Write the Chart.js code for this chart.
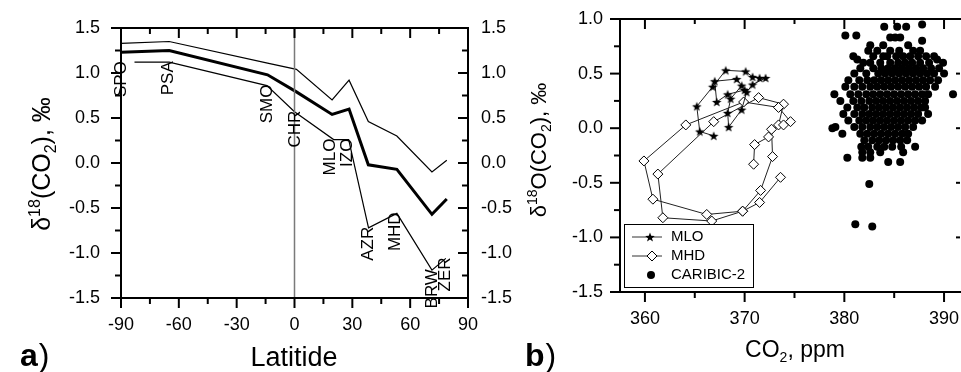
<!DOCTYPE html>
<html>
<head>
<meta charset="utf-8">
<script src="https://cdn.jsdelivr.net/npm/chart.js@4.4.0/dist/chart.umd.min.js"></script>
<style>
  html, body { margin: 0; padding: 0; background: #fff; }
  #wrap { position: relative; width: 961px; height: 372px; overflow: hidden; }
  #wrap canvas { position: absolute; left: 0; top: 0; }
</style>
</head>
<body>
<div id="wrap">
  <canvas id="chartA" width="961" height="372"></canvas>
  <canvas id="chartB" width="966" height="372"></canvas>
</div>
<script>
// ---- panel a: latitude profile ----
const latTicks = [-90, -60, -30, 0, 30, 60, 90];
const latMinor = [-75, -45, -15, 15, 45, 75];
const deltaTicks = [-1.5, -1.0, -0.5, 0.0, 0.5, 1.0, 1.5];
const deltaMinor = [-1.25, -0.75, -0.25, 0.25, 0.75, 1.25];

const bandLat  = [-90, -65, -14, 1, 19.5, 28.3, 38.3, 53.1, 71.3, 79];
const upperVal = [1.33, 1.35, 1.11, 1.04, 0.70, 0.92, 0.46, 0.30, -0.10, 0.03];
const meanVal  = [1.23, 1.25, 0.98, 0.79, 0.54, 0.60, -0.02, -0.07, -0.57, -0.40];

const stationNames   = ['SPO', 'PSA', 'SMO', 'CHR', 'MLO', 'IZO', 'AZR', 'MHD', 'BRW', 'ZER'];
const stationLat     = [-90, -65.5, -14.3, 0.5, 18.8, 27.6, 38.5, 52.5, 71.3, 78.3];
const stationLineLat = [-83, -65, -14.3, 0, 20.3, 28.1, 38.4, 53.1, 71.3, 78.5];
const stationVal     = [1.12, 1.12, 0.86, 0.57, 0.26, 0.26, -0.72, -0.56, -1.19, -1.06];
const equatorLat = 0;

// ---- panel b: d18O vs CO2 ----
const co2Ticks = [360, 370, 380, 390];
const co2Minor = [365, 375, 385];
const d18Ticks = [-1.5, -1.0, -0.5, 0.0, 0.5, 1.0];
const d18Minor = [-1.25, -0.75, -0.25, 0.25, 0.75];

const mloPoints = [
  [366.9, -0.07], [365.5, -0.03], [365.2, 0.20], [366.8, 0.38], [368.1, 0.53],
  [370.1, 0.52], [370.8, 0.47], [371.5, 0.46], [372.1, 0.46], [370.8, 0.40],
  [370.2, 0.33], [369.7, 0.17], [368.4, 0.01], [368.3, 0.14], [368.6, 0.27],
  [369.7, 0.39], [369.2, 0.45], [367.0, 0.43], [367.2, 0.24], [368.3, 0.31], [370.0, 0.35]
];
const mhdPoints = [
  [370.9, -0.33], [371.0, -0.15], [372.4, -0.08], [373.4, 0.03], [373.9, 0.22],
  [371.4, 0.28], [366.9, 0.06], [361.3, -0.42], [361.8, -0.82], [366.7, -0.85],
  [369.8, -0.76], [371.6, -0.57], [372.8, -0.26], [372.7, -0.01], [373.9, 0.03],
  [374.6, 0.06], [373.4, 0.19], [369.9, 0.24], [364.1, 0.03], [359.9, -0.30],
  [360.8, -0.65], [366.2, -0.79], [369.8, -0.76], [371.5, -0.68], [373.6, -0.45]
];
// CARIBIC-2 samples, read row by row: [d18O, [CO2 ...]]
const caribicRows = [
  [0.95, [387.8]],
  [0.93, [384.0, 385.3, 386.2]],
  [0.85, [380.1, 381.2]],
  [0.83, [384.6, 385.1, 385.6]],
  [0.80, [387.8]],
  [0.76, [382.6, 383.9, 386.4]],
  [0.71, [382.4, 383.3, 384.6, 385.5, 386.9, 387.6]],
  [0.66, [380.9, 382.9, 383.9, 384.3, 385.2, 385.9, 386.6, 387.4, 388.2, 389.0]],
  [0.63, [381.3, 389.3]],
  [0.60, [381.9, 382.6, 383.6, 384.6, 385.4, 386.1, 386.8, 387.6, 388.5, 389.9]],
  [0.55, [381.6, 382.9, 383.7, 384.4, 385.1, 385.8, 386.5, 387.2, 387.9, 388.7, 389.5]],
  [0.50, [381.0, 382.2, 383.4, 384.1, 384.8, 385.5, 386.2, 386.9, 387.6, 388.3, 389.0, 390.0]],
  [0.44, [380.4, 381.5, 382.3, 383.0, 383.7, 384.4, 385.1, 385.8, 386.5, 387.2, 387.9, 388.6, 389.4]],
  [0.38, [380.1, 381.0, 381.8, 382.6, 383.3, 384.0, 384.7, 385.4, 386.1, 386.8, 387.5, 388.2, 389.1]],
  [0.31, [379.0, 380.6, 381.4, 382.2, 382.9, 383.6, 384.3, 385.0, 385.7, 386.4, 387.1, 387.8, 388.4, 390.9]],
  [0.25, [379.6, 380.9, 381.7, 382.5, 383.2, 383.9, 384.6, 385.3, 386.0, 386.7, 387.4, 388.1]],
  [0.19, [380.3, 381.3, 382.0, 382.8, 383.5, 384.2, 384.9, 385.6, 386.3, 387.0, 387.7, 388.1]],
  [0.13, [379.9, 381.0, 381.8, 382.5, 383.2, 383.9, 384.6, 385.3, 386.0, 386.7, 387.4, 388.4]],
  [0.07, [380.4, 381.5, 382.2, 382.9, 383.6, 384.3, 385.0, 385.7, 386.4, 387.1, 387.8]],
  [0.01, [379.1, 381.0, 381.8, 382.6, 383.3, 384.0, 384.7, 385.4, 386.1, 386.9]],
  [0.00, [378.8]],
  [-0.05, [379.8, 381.6, 382.3, 383.0, 383.7, 384.4, 385.1, 385.8, 386.4]],
  [-0.11, [382.0, 382.8, 383.5, 384.2, 384.9, 385.6, 386.3]],
  [-0.17, [381.7, 382.4, 383.3, 384.0, 384.8, 385.7, 387.1]],
  [-0.22, [381.8, 382.6, 383.6, 385.9]],
  [-0.27, [380.3, 381.8, 382.6]],
  [-0.31, [384.4, 385.6]],
  [-0.51, [382.5]],
  [-0.88, [381.1]],
  [-0.90, [382.8]]
];

const FONT = "'Liberation Sans', Arial, sans-serif";

function toXY(xs, ys) { return xs.map((x, i) => ({ x: x, y: ys[i] })); }
function pairsXY(list) { return list.map(p => ({ x: p[0], y: p[1] })); }
function fixedTicks(list) { return scale => { scale.ticks = list.map(v => ({ value: v })); }; }
// force an axis box size and drop the label-overflow padding chart.js adds
function boxSize(dim, size) {
  return s => {
    s[dim] = size;
    s.paddingLeft = 0; s.paddingRight = 0; s.paddingTop = 0; s.paddingBottom = 0;
  };
}

// rich text with super/subscripts, centred on (cx, cy)
function richText(ctx, parts, cx, cy, size, rotate) {
  ctx.save();
  ctx.translate(cx, cy);
  if (rotate) ctx.rotate(-Math.PI / 2);
  const small = Math.round(size * 0.62);
  let total = 0;
  parts.forEach(p => {
    ctx.font = ((p.sup || p.sub) ? small : size) + 'px ' + FONT;
    p.w = ctx.measureText(p.t).width;
    total += p.w;
  });
  let x = -total / 2;
  ctx.fillStyle = '#000';
  ctx.textBaseline = 'alphabetic';
  ctx.textAlign = 'left';
  parts.forEach(p => {
    ctx.font = ((p.sup || p.sub) ? small : size) + 'px ' + FONT;
    const dy = p.sup ? -size * 0.4 : (p.sub ? size * 0.22 : 0);
    ctx.fillText(p.t, x, size * 0.36 + dy);
    x += p.w;
  });
  ctx.restore();
}

function panelLetter(ctx, letter, x, y) {
  ctx.save();
  ctx.fillStyle = '#000';
  ctx.textBaseline = 'alphabetic';
  ctx.font = 'bold 32px ' + FONT;
  ctx.fillText(letter, x, y);
  const w = ctx.measureText(letter).width;
  ctx.font = '32px ' + FONT;
  ctx.fillText(')', x + w + 1, y);
  ctx.restore();
}

// frame + inward/outward tick marks (len > 0 outward, < 0 inward)
const frameTicks = {
  id: 'frameTicks',
  afterDatasetsDraw(chart, args, opts) {
    const { ctx, chartArea: a, scales } = chart;
    ctx.save();
    ctx.strokeStyle = '#000';
    ctx.lineWidth = 2;
    ctx.lineCap = 'square';
    ctx.beginPath();
    opts.sides.forEach(side => {
      if (side === 'left') { ctx.moveTo(a.left, a.top); ctx.lineTo(a.left, a.bottom); }
      if (side === 'right') { ctx.moveTo(a.right, a.top); ctx.lineTo(a.right, a.bottom); }
      if (side === 'top') { ctx.moveTo(a.left, a.top); ctx.lineTo(a.right, a.top); }
      if (side === 'bottom') { ctx.moveTo(a.left, a.bottom); ctx.lineTo(a.right, a.bottom); }
    });
    ctx.stroke();
    ctx.lineCap = 'butt';
    opts.marks.forEach(m => {
      const s = scales[m.scale];
      m.values.forEach(v => {
        const p = s.getPixelForValue(v);
        ctx.beginPath();
        if (m.edge === 'bottom') { ctx.moveTo(p, a.bottom); ctx.lineTo(p, a.bottom + m.len); }
        if (m.edge === 'top') { ctx.moveTo(p, a.top); ctx.lineTo(p, a.top - m.len); }
        if (m.edge === 'left') { ctx.moveTo(a.left, p); ctx.lineTo(a.left - m.len, p); }
        if (m.edge === 'right') { ctx.moveTo(a.right, p); ctx.lineTo(a.right + m.len, p); }
        ctx.stroke();
      });
    });
    ctx.restore();
  }
};

const panelAText = {
  id: 'panelAText',
  afterDraw(chart) {
    const { ctx, scales: { x, y } } = chart;
    ctx.save();
    ctx.fillStyle = '#000';
    ctx.font = '17px ' + FONT;
    ctx.textAlign = 'right';
    ctx.textBaseline = 'middle';
    stationNames.forEach((name, i) => {
      const px = x.getPixelForValue(stationLat[i]);
      const py = y.getPixelForValue(stationVal[i]);
      ctx.save();
      ctx.translate(px, py - 1);
      ctx.rotate(-Math.PI / 2);
      ctx.fillText(name, 0, 0);
      ctx.restore();
    });
    ctx.textAlign = 'center';
    ctx.textBaseline = 'alphabetic';
    ctx.font = '27px ' + FONT;
    ctx.fillText('Latitide', 294, 366);
    ctx.restore();
    richText(ctx, [{ t: 'δ' }, { t: '18', sup: true }, { t: '(CO' }, { t: '2', sub: true }, { t: '), ‰' }], 41, 164, 25, true);
    panelLetter(ctx, 'a', 20, 366);
  }
};

function makeStar(r) {
  const c = document.createElement('canvas');
  const s = Math.ceil(r * 2 + 2);
  c.width = s; c.height = s;
  const g = c.getContext('2d');
  g.translate(s / 2, s / 2 + r * 0.1);
  g.beginPath();
  for (let i = 0; i < 10; i++) {
    const rr = i % 2 ? r * 0.42 : r;
    const ang = -Math.PI / 2 + i * Math.PI / 5;
    g.lineTo(rr * Math.cos(ang), rr * Math.sin(ang));
  }
  g.closePath();
  g.fillStyle = '#000';
  g.fill();
  return c;
}
const starImg = makeStar(5);

const panelBText = {
  id: 'panelBText',
  afterDraw(chart) {
    const { ctx } = chart;
    // legend
    ctx.save();
    ctx.fillStyle = '#fff';
    ctx.fillRect(624, 224, 129, 63);
    ctx.strokeStyle = '#000';
    ctx.lineWidth = 1;
    ctx.strokeRect(624.5, 224.5, 129, 63);
    ctx.font = '15px ' + FONT;
    ctx.textBaseline = 'middle';
    ctx.fillStyle = '#000';
    const rows = [237, 256, 275];
    ctx.strokeStyle = '#333';
    ctx.beginPath();
    ctx.moveTo(632, rows[0]); ctx.lineTo(662, rows[0]);
    ctx.moveTo(632, rows[1]); ctx.lineTo(662, rows[1]);
    ctx.stroke();
    ctx.drawImage(starImg, 650 - starImg.width / 2, rows[0] - starImg.height / 2);
    ctx.beginPath();
    ctx.moveTo(652, rows[1] - 5); ctx.lineTo(657, rows[1]); ctx.lineTo(652, rows[1] + 5); ctx.lineTo(647, rows[1]);
    ctx.closePath();
    ctx.fillStyle = '#fff'; ctx.fill(); ctx.strokeStyle = '#000'; ctx.stroke();
    ctx.fillStyle = '#000';
    ctx.beginPath(); ctx.arc(651, rows[2], 4, 0, Math.PI * 2); ctx.fill();
    ctx.fillText('MLO', 671, rows[0]);
    ctx.fillText('MHD', 671, rows[1]);
    ctx.fillText('CARIBIC-2', 671, rows[2]);
    ctx.restore();
    richText(ctx, [{ t: 'δ' }, { t: '18', sup: true }, { t: 'O(CO' }, { t: '2', sub: true }, { t: '), ‰' }], 538, 150, 22, true);
    ctx.save();
    ctx.font = '23px ' + FONT;
    const w1 = ctx.measureText('CO').width;
    const w3 = ctx.measureText(', ppm').width;
    ctx.font = '14px ' + FONT;
    const w2 = ctx.measureText('2').width;
    let x0 = 795 - (w1 + w2 + w3) / 2;
    ctx.fillStyle = '#000';
    ctx.font = '23px ' + FONT;
    ctx.fillText('CO', x0, 357);
    ctx.font = '14px ' + FONT;
    ctx.fillText('2', x0 + w1, 362);
    ctx.font = '23px ' + FONT;
    ctx.fillText(', ppm', x0 + w1 + w2, 357);
    ctx.restore();
    panelLetter(ctx, 'b', 525, 366);
  }
};

const tickFont = { family: FONT, size: 18 };
const noGrid = { display: false, drawTicks: false };
const noBorder = { display: false };

// ---------- chart a ----------
new Chart(document.getElementById('chartA'), {
  type: 'scatter',
  data: {
    datasets: [
      { data: toXY([equatorLat, equatorLat], [deltaTicks[0], deltaTicks[deltaTicks.length - 1]]),
        showLine: true, borderColor: '#7a7a7a', borderWidth: 1.5, pointRadius: 0 },
      { data: toXY(bandLat, upperVal), showLine: true, borderColor: '#000', borderWidth: 1.2, pointRadius: 0 },
      { data: toXY(bandLat, meanVal), showLine: true, borderColor: '#000', borderWidth: 3, pointRadius: 0 },
      { data: toXY(stationLineLat, stationVal), showLine: true, borderColor: '#000', borderWidth: 1.2, pointRadius: 0 }
    ]
  },
  options: {
    responsive: false,
    animation: false,
    devicePixelRatio: 1,
    layout: { padding: { top: 28, left: 0, right: 0, bottom: 0 } },
    plugins: {
      legend: { display: false },
      tooltip: { enabled: false },
      frameTicks: {
        sides: ['left', 'right', 'top', 'bottom'],
        marks: [
          { scale: 'x', edge: 'bottom', values: latTicks, len: 10 },
          { scale: 'x', edge: 'bottom', values: latMinor, len: 6 },
          { scale: 'x', edge: 'top', values: latTicks, len: -10 },
          { scale: 'x', edge: 'top', values: latMinor, len: -6 },
          { scale: 'y', edge: 'left', values: deltaTicks, len: 10 },
          { scale: 'y', edge: 'left', values: deltaMinor, len: 6 },
          { scale: 'y', edge: 'right', values: deltaTicks, len: -10 },
          { scale: 'y', edge: 'right', values: deltaMinor, len: -6 }
        ]
      }
    },
    scales: {
      x: {
        type: 'linear', position: 'bottom', min: -90, max: 90,
        grid: noGrid, border: noBorder,
        afterBuildTicks: fixedTicks(latTicks),
        afterFit: boxSize('height', 74),
        ticks: { font: tickFont, color: '#000', padding: 16, maxRotation: 0, autoSkip: false, callback: v => String(v) }
      },
      y: {
        type: 'linear', position: 'left', min: -1.5, max: 1.5,
        grid: noGrid, border: noBorder,
        afterBuildTicks: fixedTicks(deltaTicks),
        afterFit: boxSize('width', 121),
        ticks: { font: tickFont, color: '#000', padding: 21, callback: v => v.toFixed(1) }
      },
      y2: {
        type: 'linear', position: 'right', min: -1.5, max: 1.5,
        grid: noGrid, border: noBorder,
        afterBuildTicks: fixedTicks(deltaTicks),
        afterFit: boxSize('width', 961 - 468),
        ticks: { font: tickFont, color: '#000', padding: 13, callback: v => v.toFixed(1) }
      }
    }
  },
  plugins: [frameTicks, panelAText]
});

// ---------- chart b ----------
const caribicPoints = [];
caribicRows.forEach(row => row[1].forEach(c => caribicPoints.push([c, row[0]])));

new Chart(document.getElementById('chartB'), {
  type: 'scatter',
  data: {
    datasets: [
      { label: 'MLO', data: pairsXY(mloPoints), showLine: true, borderColor: '#222', borderWidth: 1,
        pointStyle: starImg, pointRadius: 5 },
      { label: 'MHD', data: pairsXY(mhdPoints), showLine: true, borderColor: '#222', borderWidth: 1,
        pointStyle: 'rectRot', pointRadius: 5, pointBackgroundColor: '#fff', pointBorderColor: '#000', pointBorderWidth: 1 },
      { label: 'CARIBIC-2', data: pairsXY(caribicPoints), pointStyle: 'circle', pointRadius: 4,
        pointBackgroundColor: '#000', pointBorderWidth: 0 }
    ]
  },
  options: {
    responsive: false,
    animation: false,
    devicePixelRatio: 1,
    layout: { padding: { top: 19, left: 0, right: 0, bottom: 0 } },
    plugins: {
      legend: { display: false },
      tooltip: { enabled: false },
      frameTicks: {
        sides: ['left', 'top', 'bottom'],
        marks: [
          { scale: 'x', edge: 'bottom', values: co2Ticks, len: 10 },
          { scale: 'x', edge: 'bottom', values: co2Minor, len: 6 },
          { scale: 'x', edge: 'top', values: co2Ticks, len: -10 },
          { scale: 'x', edge: 'top', values: co2Minor, len: -5 },
          { scale: 'y', edge: 'left', values: d18Ticks, len: 10 },
          { scale: 'y', edge: 'left', values: d18Minor, len: 6 },
          { scale: 'y', edge: 'right', values: d18Ticks, len: -4 }
        ]
      }
    },
    scales: {
      x: {
        type: 'linear', position: 'bottom', min: 357.5, max: 391.6,
        grid: noGrid, border: noBorder,
        afterBuildTicks: fixedTicks(co2Ticks),
        afterFit: boxSize('height', 80),
        ticks: { font: tickFont, color: '#000', padding: 16, maxRotation: 0, autoSkip: false, callback: v => String(v) }
      },
      y: {
        type: 'linear', position: 'left', min: -1.5, max: 1.0,
        grid: noGrid, border: noBorder,
        afterBuildTicks: fixedTicks(d18Ticks),
        afterFit: boxSize('width', 620),
        ticks: { font: tickFont, color: '#000', padding: 17, callback: v => v.toFixed(1) }
      }
    }
  },
  plugins: [frameTicks, panelBText]
});
</script>
</body>
</html>
